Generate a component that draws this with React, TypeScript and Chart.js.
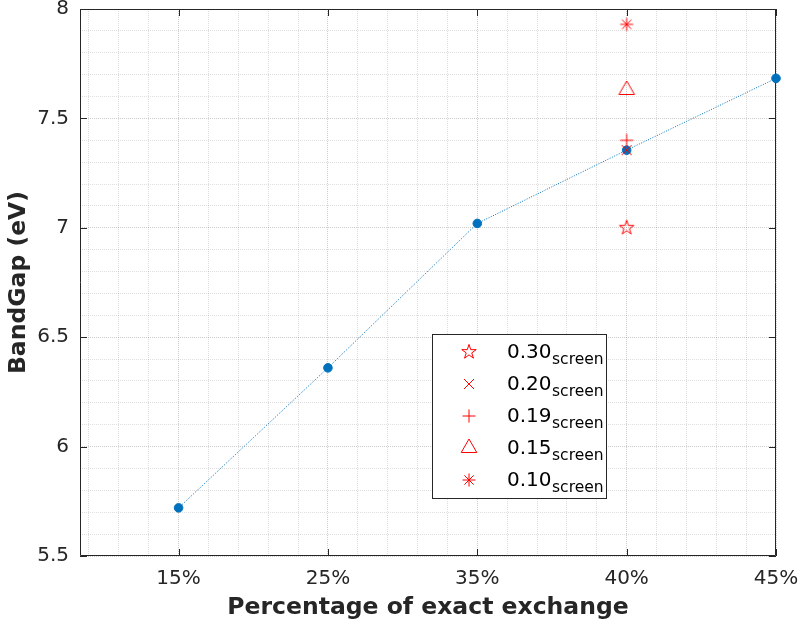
import React, { useEffect, useRef } from 'react';
import { Chart, registerables } from 'chart.js';

Chart.register(...registerables);

// Exact-exchange fractions along the x axis and the resulting band gaps
const exchangeLabels = ['15%', '25%', '35%', '40%', '45%'];
const bandGap = [5.72, 6.36, 7.02, 7.355, 7.683];

// Screened runs, all at the 40% exchange fraction
const screeningExchange = '40%';
const screeningLabels = ['0.30', '0.20', '0.19', '0.15', '0.10'];
const screeningGap = [7.0, 7.355, 7.4, 7.63, 7.93];

// Y axis major ticks and their labels
const yMajorTicks = [5.5, 6, 6.5, 7, 7.5, 8];
const yTickLabels = ['5.5', '6', '6.5', '7', '7.5', '8'];

const FONT = '"DejaVu Sans", "Liberation Sans", sans-serif';
const AXIS_COLOR = '#262626';
const BLUE = '#0072BD';
const RED = '#FF0000';
const markerKinds = ['pentagram', 'crossRot', 'cross', 'triangle', 'asterisk'];

const xOf = (label: string) => exchangeLabels.indexOf(label) + 1;

// grid positions: minor every 0.2 category units / 0.1 eV
const xGrid: number[] = [];
for (let i = 2; i <= 25; i++) xGrid.push(+(i * 0.2).toFixed(2));
const yGrid: number[] = [];
for (let i = 55; i <= 80; i++) yGrid.push(+(i * 0.1).toFixed(2));

const near = (a: number, b: number) => Math.abs(a - b) < 1e-6;

function drawMarker(ctx: CanvasRenderingContext2D, kind: string, x: number, y: number) {
  ctx.save();
  ctx.strokeStyle = RED;
  ctx.lineWidth = 1;
  ctx.beginPath();
  if (kind === 'pentagram') {
    const R = 7.6;
    const r = R * 0.382;
    for (let i = 0; i < 10; i++) {
      const rad = (Math.PI / 5) * i - Math.PI / 2;
      const rr = i % 2 === 0 ? R : r;
      const px = x + Math.cos(rad) * rr;
      const py = y + Math.sin(rad) * rr;
      if (i === 0) ctx.moveTo(px, py);
      else ctx.lineTo(px, py);
    }
    ctx.closePath();
  } else if (kind === 'crossRot') {
    const d = 5;
    ctx.moveTo(x - d, y - d);
    ctx.lineTo(x + d, y + d);
    ctx.moveTo(x - d, y + d);
    ctx.lineTo(x + d, y - d);
  } else if (kind === 'cross') {
    const d = 6.5;
    ctx.moveTo(x - d, y);
    ctx.lineTo(x + d, y);
    ctx.moveTo(x, y - d);
    ctx.lineTo(x, y + d);
  } else if (kind === 'triangle') {
    const r = 9;
    for (let i = 0; i < 3; i++) {
      const rad = (2 * Math.PI / 3) * i;
      const px = x + Math.sin(rad) * r;
      const py = y - Math.cos(rad) * r;
      if (i === 0) ctx.moveTo(px, py);
      else ctx.lineTo(px, py);
    }
    ctx.closePath();
  } else if (kind === 'asterisk') {
    const d = 6.5;
    const e = d * 0.7071;
    ctx.moveTo(x - d, y);
    ctx.lineTo(x + d, y);
    ctx.moveTo(x, y - d);
    ctx.lineTo(x, y + d);
    ctx.moveTo(x - e, y - e);
    ctx.lineTo(x + e, y + e);
    ctx.moveTo(x - e, y + e);
    ctx.lineTo(x + e, y - e);
  }
  ctx.stroke();
  ctx.restore();
}

function markerImage(kind: string): HTMLCanvasElement {
  const c = document.createElement('canvas');
  c.width = 24;
  c.height = 24;
  const ctx = c.getContext('2d')!;
  drawMarker(ctx, kind, 12, 12);
  return c;
}

// Box frame with inward ticks on all four sides, drawn under the data
const framePlugin = {
  id: 'matlabFrame',
  beforeDatasetsDraw(chart: any) {
    const { ctx, chartArea } = chart;
    const { left, right, top, bottom } = chartArea;
    const xs = chart.scales.x;
    const ys = chart.scales.y;
    const tl = 7;
    ctx.save();
    ctx.strokeStyle = AXIS_COLOR;
    ctx.lineWidth = 1;
    ctx.beginPath();
    ctx.rect(left + 0.5, top + 0.5, right - left - 1, bottom - top - 1);
    exchangeLabels.forEach((_, i) => {
      const px = Math.round(xs.getPixelForValue(i + 1)) + 0.5;
      ctx.moveTo(px, bottom);
      ctx.lineTo(px, bottom - tl);
      ctx.moveTo(px, top);
      ctx.lineTo(px, top + tl);
    });
    yMajorTicks.forEach((v) => {
      const py = Math.round(ys.getPixelForValue(v)) + 0.5;
      ctx.moveTo(left, py);
      ctx.lineTo(left + tl, py);
      ctx.moveTo(right, py);
      ctx.lineTo(right - tl, py);
    });
    ctx.stroke();
    ctx.restore();
  },
};

// Legend with subscripted screening labels, placed inside the axes
const legendPlugin = {
  id: 'screeningLegend',
  afterDraw(chart: any) {
    const { ctx } = chart;
    const bx = 432;
    const by = 334;
    const bw = 174;
    const bh = 164;
    ctx.save();
    ctx.fillStyle = '#ffffff';
    ctx.fillRect(bx, by, bw, bh);
    ctx.strokeStyle = AXIS_COLOR;
    ctx.lineWidth = 1;
    ctx.strokeRect(bx + 0.5, by + 0.5, bw, bh);
    screeningLabels.forEach((label, i) => {
      const my = by + 18 + i * 32;
      drawMarker(ctx, markerKinds[i], bx + 37, my);
      const base = my + 5.5;
      ctx.fillStyle = '#000000';
      ctx.textBaseline = 'alphabetic';
      ctx.textAlign = 'left';
      ctx.font = `20px ${FONT}`;
      ctx.fillText(label, bx + 75, base);
      const w = ctx.measureText(label).width;
      ctx.font = `15.5px ${FONT}`;
      ctx.fillText('screen', bx + 75 + w + 0.5, base + 6.5);
    });
    ctx.restore();
  },
};

const noScalePadding = (s: any) => {
  s.paddingTop = 0;
  s.paddingBottom = 0;
  s.paddingLeft = 0;
  s.paddingRight = 0;
};

export default function App() {
  const canvasRef = useRef<HTMLCanvasElement | null>(null);

  useEffect(() => {
    if (!canvasRef.current) return;
    const images = markerKinds.map(markerImage);
    const chart = new Chart(canvasRef.current, {
      type: 'scatter',
      data: {
        datasets: [
          {
            label: 'screened',
            data: screeningGap.map((g) => ({ x: xOf(screeningExchange), y: g })),
            pointStyle: images as any,
            pointRadius: 8,
            showLine: false,
            clip: false as any,
          },
          {
            label: 'BandGap',
            data: bandGap.map((g, i) => ({ x: i + 1, y: g })),
            showLine: true,
            borderColor: BLUE,
            borderWidth: 1,
            borderDash: [1, 1.5],
            backgroundColor: BLUE,
            pointBackgroundColor: BLUE,
            pointBorderColor: BLUE,
            pointRadius: 4.3,
            pointBorderWidth: 1,
            tension: 0,
            clip: false as any,
          },
        ],
      },
      options: {
        animation: false,
        responsive: true,
        maintainAspectRatio: false,
        events: [],
        layout: { padding: { top: 8, right: 25, bottom: 0, left: 0 } },
        plugins: {
          legend: { display: false },
          tooltip: { enabled: false },
        },
        scales: {
          x: {
            type: 'linear',
            min: 0.34,
            max: 5,
            afterBuildTicks: (s: any) => {
              s.ticks = xGrid.map((v) => ({ value: v }));
            },
            afterFit: (s: any) => {
              s.height = 67;
              noScalePadding(s);
            },
            grid: {
              drawTicks: false,
              lineWidth: 1,
              color: (c: any) =>
                Number.isInteger(Math.round(c.tick.value * 1e6) / 1e6) ? 'rgba(0,0,0,0.2)' : 'rgba(0,0,0,0.13)',
            },
            border: { display: false, dash: [1, 1] },
            ticks: {
              autoSkip: false,
              maxRotation: 0,
              padding: 11,
              color: AXIS_COLOR,
              font: { family: FONT, size: 20 },
              callback: (v: any) => {
                const i = exchangeLabels.findIndex((_, k) => near(Number(v), k + 1));
                return i >= 0 ? exchangeLabels[i] : '';
              },
            },
            title: {
              display: true,
              text: 'Percentage of exact exchange',
              color: AXIS_COLOR,
              font: { family: FONT, size: 23.5, weight: 'bold' },
              padding: { top: 0, bottom: 1 },
            },
          },
          y: {
            type: 'linear',
            min: 5.5,
            max: 8,
            afterBuildTicks: (s: any) => {
              s.ticks = yGrid.map((v) => ({ value: v }));
            },
            afterFit: (s: any) => {
              s.width = 80;
              noScalePadding(s);
            },
            grid: {
              drawTicks: false,
              lineWidth: 1,
              color: (c: any) =>
                yMajorTicks.some((m) => near(m, c.tick.value)) ? 'rgba(0,0,0,0.2)' : 'rgba(0,0,0,0.13)',
            },
            border: { display: false, dash: [1, 1] },
            ticks: {
              autoSkip: false,
              padding: 11,
              color: AXIS_COLOR,
              font: { family: FONT, size: 20 },
              callback: (v: any) => {
                const i = yMajorTicks.findIndex((m) => near(m, Number(v)));
                return i >= 0 ? yTickLabels[i] : '';
              },
            },
            title: {
              display: true,
              text: 'BandGap (eV)',
              color: AXIS_COLOR,
              font: { family: FONT, size: 23.5, weight: 'bold' },
              padding: { top: 5, bottom: 0 },
            },
          },
        },
      },
      plugins: [framePlugin, legendPlugin],
    } as any);
    return () => chart.destroy();
  }, []);

  return (
    <div style={{ position: 'fixed', left: 0, top: 0, width: 801, height: 623, background: '#ffffff' }}>
      <canvas ref={canvasRef} />
    </div>
  );
}
